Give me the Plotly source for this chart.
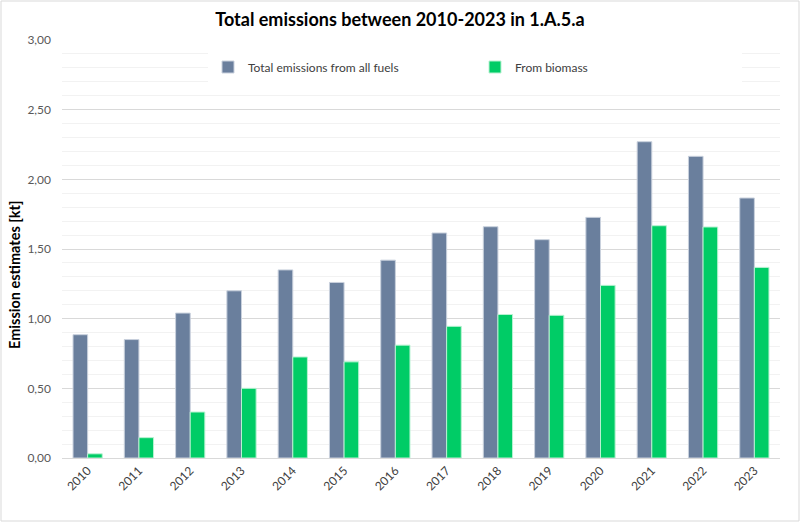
import plotly.graph_objects as go

years = [str(y) for y in range(2010, 2024)]
total_all_fuels = [0.885, 0.85, 1.04, 1.20, 1.35, 1.26, 1.42, 1.615, 1.66, 1.567, 1.727, 2.27, 2.165, 1.866]
from_biomass = [0.03, 0.146, 0.33, 0.50, 0.725, 0.69, 0.81, 0.945, 1.03, 1.024, 1.239, 1.667, 1.658, 1.368]

W, H = 800, 522
ml, mr, mt, mb = 62, 20, 40, 64
pw, ph = W - ml - mr, H - mt - mb

fig = go.Figure()
fig.add_trace(go.Bar(x=years, y=total_all_fuels, name='Total emissions from all fuels',
                     marker=dict(color='#6A7F9D', line=dict(color='#C9D1DD', width=1))))
fig.add_trace(go.Bar(x=years, y=from_biomass, name='From biomass',
                     marker=dict(color='#00CC66', line=dict(color='#B8F2D2', width=1))))

fig.update_layout(
    width=W, height=H,
    margin=dict(l=ml, r=mr, t=mt, b=mb, autoexpand=False),
    paper_bgcolor='white', plot_bgcolor='white',
    font=dict(family='Lato', color='#404040', size=12),
    separators=',.',
    title=dict(text='<b>Total emissions between 2010-2023 in 1.A.5.a</b>', x=0.5, xanchor='center',
               y=1 - 20 / H, yanchor='middle', font=dict(size=18, color='black')),
    barmode='group', bargap=0.43, bargroupgap=0,
    legend=dict(orientation='h', x=(208 - ml) / pw, xanchor='left', y=(458 - 67) / ph, yanchor='middle',
                bgcolor='white', entrywidth=222, entrywidthmode='pixels',
                font=dict(size=12, color='#404040'), itemclick=False),
    showlegend=True,
)

fig.update_yaxes(range=[0, 3], dtick=0.5, tickformat='.2f', showgrid=True, gridcolor='#D9D9D9', gridwidth=1,
                 minor=dict(dtick=0.1, showgrid=True, gridcolor='#F2F2F2'),
                 zeroline=False, showline=False, ticks='', ticklabelstandoff=10, automargin=False,
                 tickfont=dict(size=12, color='#595959'))
fig.update_xaxes(tickangle=-45, showline=True, linecolor='#D9D9D9', linewidth=1, ticks='', automargin=False,
                 tickfont=dict(size=12, color='#404040'))

# y axis title, placed like the original (a bit below the plot middle)
fig.add_annotation(text='<b>Emission estimates [kt]</b>', textangle=-90, showarrow=False,
                   xref='paper', yref='paper', x=(14 - ml) / pw, y=(458 - 275) / ph,
                   xanchor='center', yanchor='middle', font=dict(size=14.5, color='black'))

# chart border
fig.add_shape(type='rect', xref='paper', yref='paper',
              x0=(1 - ml) / pw, x1=(W - 1 - ml) / pw,
              y0=(H - mb - (H - 1)) / ph, y1=(H - mb - 1) / ph,
              line=dict(color='#D9D9D9', width=1), layer='below')

# drop the default 8px body margin so the chart sits at the page corner
fig.write_html("out.html", config={'displayModeBar': False},
               post_script="document.body.style.margin='0';")
